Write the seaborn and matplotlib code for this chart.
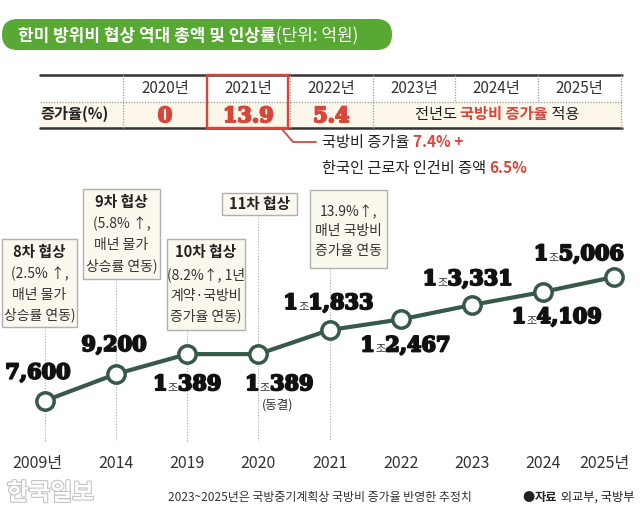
import matplotlib
matplotlib.use("Agg")
import matplotlib.pyplot as plt
import matplotlib.patheffects as pe
import matplotlib.transforms as mtransforms
from matplotlib.patches import FancyBboxPatch, Rectangle
import seaborn as sns
import numpy as np
import pandas as pd

# ---------------- data ----------------
years = ["2009년", "2014", "2019", "2020", "2021", "2022", "2023", "2024", "2025년"]
amounts = [7600, 9200, 10389, 10389, 11833, 12467, 13331, 14109, 15006]
label_jo = ["", "", "1", "1", "1", "1", "1", "1", "1"]
label_rest = ["7,600", "9,200", "389", "389", "1,833", "2,467", "3,331", "4,109", "5,006"]

table_years = ["2020년", "2021년", "2022년", "2023년", "2024년", "2025년"]
table_rates = ["0", "13.9", "5.4"]
table_row_label = "증가율(%)"
rest_note = [("전년도 ", False), ("국방비 증가율", True), (" 적용", False)]
callout1 = [("국방비 증가율 ", False), ("7.4% +", True)]
callout2 = [("한국인 근로자 인건비 증액 ", False), ("6.5%", True)]

box_texts = [
    ["8차 협상", "(2.5% ↑,", "매년 물가", "상승률 연동)"],
    ["9차 협상", "(5.8% ↑,", "매년 물가", "상승률 연동)"],
    ["10차 협상", "(8.2%↑, 1년", "계약·국방비", "증가율 연동)"],
    ["11차 협상"],
    ["13.9%↑,", "매년 국방비", "증가율 연동"],
]
box_bold_first = [True, True, True, True, False]
box_year_index = [0, 1, 2, 3, 4]

title_bold = "한미 방위비 협상 역대 총액 및 인상률"
title_unit = "(단위: 억원)"
footnote = "2023~2025년은 국방중기계획상 국방비 증가율 반영한 추정치"
source_parts = [("●", False), ("자료", True), (" 외교부, 국방부", False)]
logo = "한국일보"
freeze_note = "(동결)"

# ---------------- layout / style ----------------
W, H = 640, 522
RED = "#d5473a"
GREEN = "#58a834"
LINE = "#36594a"
DARK = "#222222"
BOX_FC = "#fbf8ee"
BOX_EC = "#b0b0b0"
KR = ["Noto Sans CJK KR", "DejaVu Sans"]

# label offsets (px) of value-label centre relative to each point
label_off = [(-7, -30), (-2, -31), (0, 28), (21, 28), (-1, -29), (5, 24), (-4, -28), (14, 23), (-35, -25)]
box_rects = [(2, 239, 77, 327), (83, 189, 160, 279), (167, 239, 245, 330),
             (222, 193, 297, 215), (310, 190, 387, 268)]
box_line_y = [[252, 274, 295, 315], [202, 224, 245, 266], [252, 275, 296, 316],
              [204], [212, 231, 251]]
edge_tick_shift = {0: -8, 8: -10}

sns.set_theme(style="white")
plt.rcParams["font.family"] = KR
plt.rcParams["axes.unicode_minus"] = False

fig = plt.figure(figsize=(W / 100, H / 100), dpi=100)
ax_top, ax_bot = 140, 451
ax = fig.add_axes([0, (H - ax_bot) / H, 1, (ax_bot - ax_top) / H])
ov = fig.add_axes([0, 0, 1, 1])
ov.set_xlim(0, W)
ov.set_ylim(H, 0)
ov.axis("off")
ov.set_zorder(0)
ax.set_zorder(1)
ax.patch.set_visible(False)

# ---------------- line chart ----------------
xpos = np.arange(len(years))
df = pd.DataFrame({"x": xpos, "amount": amounts})
sns.lineplot(data=df, x="x", y="amount", ax=ax, color=LINE, lw=3.0,
             marker="o", markersize=12.5, markerfacecolor="white",
             markeredgecolor=LINE, markeredgewidth=2.5)
step = 71.125
x0px = 45
ax.set_xlim(-x0px / step, (W - x0px) / step)
slope = 0.0167  # px per unit
ax.set_ylim(11833 - (ax_bot - 330) / slope, 11833 + (330 - ax_top) / slope)
ax.set_xticks(xpos)
ax.set_xticklabels(years)
ax.set_yticks([])
ax.set_xlabel("")
ax.set_ylabel("")
for s in ax.spines.values():
    s.set_visible(False)
ax.tick_params(axis="x", direction="in", length=4.5, width=0.8, color="#9a9a9a",
               pad=3, labelsize=11.5, labelcolor="#333333")
for idx, shift in edge_tick_shift.items():
    lab = ax.get_xticklabels()[idx]
    lab.set_transform(lab.get_transform() +
                      mtransforms.ScaledTranslation(shift / 100, 0, fig.dpi_scale_trans))


def to_px(xd, yd):
    disp = ax.transData.transform((xd, yd))
    return ov.transData.inverted().transform(disp)


renderer = fig.canvas.get_renderer()


def rich(x, yb, parts, ha="center"):
    ts = [ov.text(0, yb, s, va="baseline", ha="left", **kw) for s, kw in parts]
    ws = [t.get_window_extent(renderer).width for t in ts]
    total = sum(ws)
    if ha == "center":
        cx = x - total / 2
    elif ha == "left":
        cx = x
    else:
        cx = x - total
    for t, w in zip(ts, ws):
        t.set_x(cx)
        cx += w
    return ts


heavy = dict(family="DejaVu Serif", fontweight="bold", fontsize=15, color="#111111",
             path_effects=[pe.withStroke(linewidth=1.4, foreground="#111111")])
small_jo = dict(family=KR, fontsize=8, color="#333333")

# value labels
for i, (v, jo, rest) in enumerate(zip(amounts, label_jo, label_rest)):
    px, py = to_px(i, v)
    dx, dy = label_off[i]
    parts = []
    if jo:
        parts += [(jo, heavy), ("조", small_jo)]
    parts.append((rest, heavy))
    rich(px + dx, py + dy + 8, parts)
    if i == 3:
        ov.text(px + 19, py + 51, freeze_note, ha="center", va="center",
                fontsize=9, color="#333333")

# annotation boxes with dotted connectors
for k, (rect, lines, ys) in enumerate(zip(box_rects, box_texts, box_line_y)):
    x1, y1, x2, y2 = rect
    ov.add_patch(Rectangle((x1, y1), x2 - x1, y2 - y1, fc=BOX_FC, ec=BOX_EC, lw=1.0, zorder=3))
    cx = (x1 + x2) / 2
    for j, (line, yy) in enumerate(zip(lines, ys)):
        bold = box_bold_first[k] and j == 0
        ov.text(cx, yy, line, ha="center", va="center", zorder=4,
                fontsize=10.6 if bold else 10.0, fontweight="bold" if bold else "normal",
                color=DARK if bold else "#333333")
    xi = box_year_index[k]
    px, _ = to_px(xi, amounts[xi])
    ov.plot([px, px], [y2, 441], color="#a8a8a8", lw=0.8, ls=(0, (1, 1.6)), zorder=1)

# ---------------- title ----------------
ov.add_patch(FancyBboxPatch((2, 19), 390, 31, boxstyle="round,pad=0,rounding_size=15.5",
                            fc=GREEN, ec="none"))
rich(18, 41, [(title_bold, dict(family=KR, fontsize=12.2, fontweight="bold", color="white")),
              (title_unit, dict(family=KR, fontsize=12.2, color="white"))], ha="left")

# ---------------- table ----------------
col_edges = [123, 207, 290, 373, 455, 538, 621]
ov.add_patch(Rectangle((40, 102), 581, 26, fc="#fcf7ea", ec="none", zorder=0))
ov.plot([40, 622], [75, 75], color="#333333", lw=1.8)
ov.plot([40, 622], [128, 128], color="#333333", lw=1.8)
ov.plot([40, 622], [101.5, 101.5], color="#9a9a9a", lw=0.9, ls=(0, (1, 1.2)))
for k, xe in enumerate(col_edges):
    ov.plot([xe, xe], [75, 101.5], color="#9a9a9a", lw=0.9, ls=(0, (1, 1.2)))
    if k <= 3 or k == 6:
        ov.plot([xe, xe], [101.5, 128], color="#9a9a9a", lw=0.9, ls=(0, (1, 1.2)))
for k, ty in enumerate(table_years):
    cx = (col_edges[k] + col_edges[k + 1]) / 2
    ov.text(cx, 88, ty, ha="center", va="center", fontsize=11, color="#333333")
ov.text(40, 114, table_row_label, ha="left", va="center", fontsize=11,
        fontweight="bold", color=DARK)
heavy_red = dict(heavy, color=RED, path_effects=[pe.withStroke(linewidth=1.4, foreground=RED)])
for k, r in enumerate(table_rates):
    cx = (col_edges[k] + col_edges[k + 1]) / 2
    rich(cx, 122, [(r, heavy_red)])
rich((col_edges[3] + col_edges[6]) / 2, 119.5,
     [(s, dict(family=KR, fontsize=11, color=RED if b else DARK,
               fontweight="bold" if b else "normal")) for s, b in rest_note])
ov.add_patch(Rectangle((207, 75), 81, 53, fill=False, ec=RED, lw=1.7, zorder=5))

# callout
ov.plot([281, 293, 316], [128, 142, 142], color=RED, lw=1.3)
rich(322, 147, [(s, dict(family=KR, fontsize=11, color=RED if b else DARK,
                         fontweight="bold" if b else "normal")) for s, b in callout1], ha="left")
rich(322, 173, [(s, dict(family=KR, fontsize=11, color=RED if b else DARK,
                         fontweight="bold" if b else "normal")) for s, b in callout2], ha="left")

# ---------------- footer ----------------
ov.text(168, 497, footnote, ha="left", va="center", fontsize=8.6, color="#333333")
rich(634, 501, [(s, dict(family=KR, fontsize=8.8, color=DARK,
                         fontweight="bold" if b else "normal")) for s, b in source_parts], ha="right")
ov.text(7, 493, logo, ha="left", va="center", fontsize=17, fontweight="bold", color="white",
        path_effects=[pe.withStroke(linewidth=1.6, foreground="#c4c4c4")])

fig.savefig("out.png", dpi=100, facecolor="white")
